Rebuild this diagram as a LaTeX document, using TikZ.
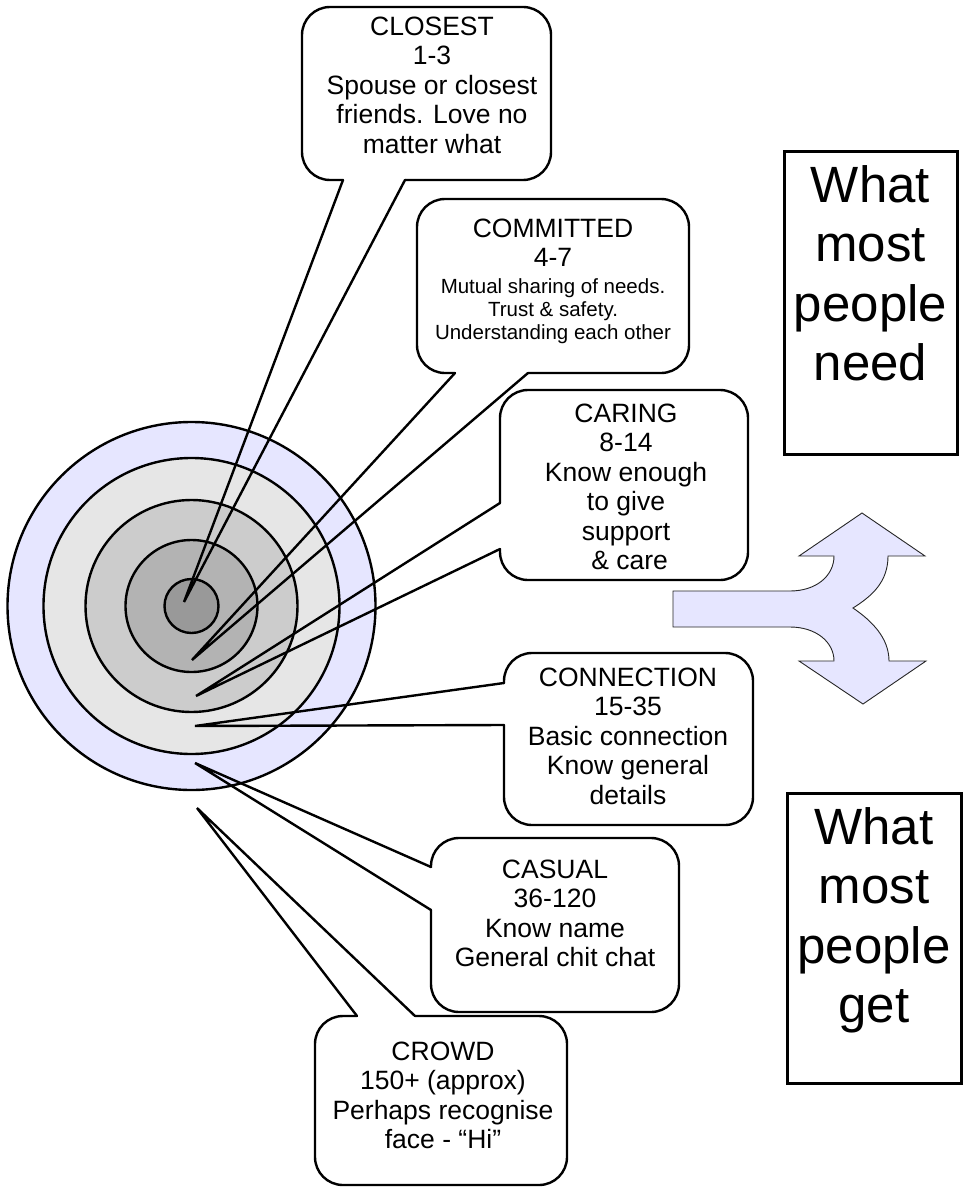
\documentclass[tikz,border=0pt]{standalone}
\usepackage{fontspec}
\setmainfont{Liberation Sans}
\definecolor{lav}{HTML}{E6E6FF}
\definecolor{gA}{HTML}{E6E6E6}
\definecolor{gB}{HTML}{CCCCCC}
\definecolor{gC}{HTML}{B3B3B3}
\definecolor{gD}{HTML}{999999}
\begin{document}
\begin{tikzpicture}[x=1pt,y=-1pt,
  ring/.style={draw=black,line width=2.4pt},
  bubble/.style={draw=black,line width=2.4pt,rounded corners=28pt,line cap=round},
  wedge/.style={draw=black,line width=2.4pt,line cap=round,line join=miter},
  bigtxt/.style={inner sep=0pt,anchor=north,align=center,font=\fontsize{26.5}{29.5}\selectfont},
  smalltxt/.style={inner sep=0pt,anchor=north,align=center,font=\fontsize{20.5}{23}\selectfont},
  hugetxt/.style={inner sep=0pt,anchor=north,align=center,font=\fontsize{51}{59.3}\selectfont},
  sidebox/.style={draw=black,line width=3pt},
  arrowshape/.style={draw=black!85,fill=lav,line width=0.9pt,line join=miter}]

\useasboundingbox (0,0) rectangle (967,1188);

% target circles
\coordinate (C) at (191.5,606);
\draw[ring,fill=lav] (C) circle[radius=184pt];
\draw[ring,fill=gA] (C) circle[radius=148pt];
\draw[ring,fill=gB] (C) circle[radius=106pt];
\draw[ring,fill=gC] (C) circle[radius=66pt];
\draw[ring,fill=gD] (C) circle[radius=27pt];

% pointer tips and bases
\coordinate (t1) at (184,602);
\coordinate (t2) at (192,660);
\coordinate (t3) at (196,696);
\coordinate (t4) at (195,726);
\coordinate (t5) at (195,763);
\coordinate (t6) at (197,808);

% CLOSEST
\coordinate (a1) at (343,180); \coordinate (b1) at (405,180);
\draw[bubble] (b1) -- (551,180) -- (551,7) -- (302,7) -- (302,180) -- (a1);
\draw[wedge] (a1) -- (t1) -- (b1);
\node[bigtxt] (closest) at (432,16.7) {CLOSEST\\1-3\\Spouse or closest\\friends. Love no\\matter what};

% COMMITTED
\coordinate (a2) at (455,373); \coordinate (b2) at (528,373);
\draw[bubble] (b2) -- (689,373) -- (689,199) -- (417,199) -- (417,373) -- (a2);
\draw[wedge] (a2) -- (t2) -- (b2);
\node[bigtxt] (committed) at (553,218.7) {COMMITTED\\4-7};
\node[smalltxt] (committedtxt) at (553,278.3) {Mutual sharing of needs.\\Trust \& safety.\\Understanding each other};

% CARING
\coordinate (a3) at (500,503); \coordinate (b3) at (500,549);
\draw[bubble] (b3) -- (500,580) -- (748,580) -- (748,390) -- (500,390) -- (a3);
\draw[wedge] (a3) -- (t3) -- (b3);
\node[bigtxt] (caring) at (626,403.7) {CARING\\8-14\\Know enough\\to give\\support\\\mbox{}\ \& care};

% CONNECTION
\coordinate (a4) at (504,683); \coordinate (b4) at (504,725);
\draw[bubble] (b4) -- (504,825) -- (753,825) -- (753,653) -- (504,653) -- (a4);
\draw[wedge] (a4) -- (t4) -- (b4);
\node[bigtxt] (connection) at (628,667.7) {CONNECTION\\15-35\\Basic connection\\Know general\\details};

% CASUAL
\coordinate (a5) at (431,867); \coordinate (b5) at (431,910);
\draw[bubble] (b5) -- (431,1012) -- (679,1012) -- (679,838) -- (431,838) -- (a5);
\draw[wedge] (a5) -- (t5) -- (b5);
\node[bigtxt] (casual) at (555,859.7) {CASUAL\\36-120\\Know name\\General chit chat};

% CROWD
\coordinate (a6) at (357,1016); \coordinate (b6) at (415,1016);
\draw[bubble] (b6) -- (567,1016) -- (567,1185) -- (315,1185) -- (315,1016) -- (a6);
\draw[wedge] (a6) -- (t6) -- (b6);
\node[bigtxt] (crowd) at (443,1041.7) {CROWD\\150+ (approx)\\Perhaps recognise\\face - “Hi”};

% split arrow
\draw[arrowshape] (673,591) -- (790,591)
  .. controls (816,591) and (834,576) .. (834,556)
  -- (799,556) -- (862,513) -- (925,556) -- (888,556)
  .. controls (888,582) and (872,596) .. (853,608)
  .. controls (872,621) and (889,638) .. (889,661)
  -- (926,661) -- (863,704) -- (799,661) -- (834,661)
  .. controls (834,642) and (816,627) .. (790,627)
  -- (673,627) -- cycle;

% side boxes
\draw[sidebox] (784,151) rectangle (957,454);
\node[hugetxt] (need) at (870.5,165.5) {What\\most\\people\\need};
\draw[sidebox] (787,793) rectangle (961,1083);
\node[hugetxt] (get) at (874,807.5) {What\\most\\people\\get};
\end{tikzpicture}
\end{document}
